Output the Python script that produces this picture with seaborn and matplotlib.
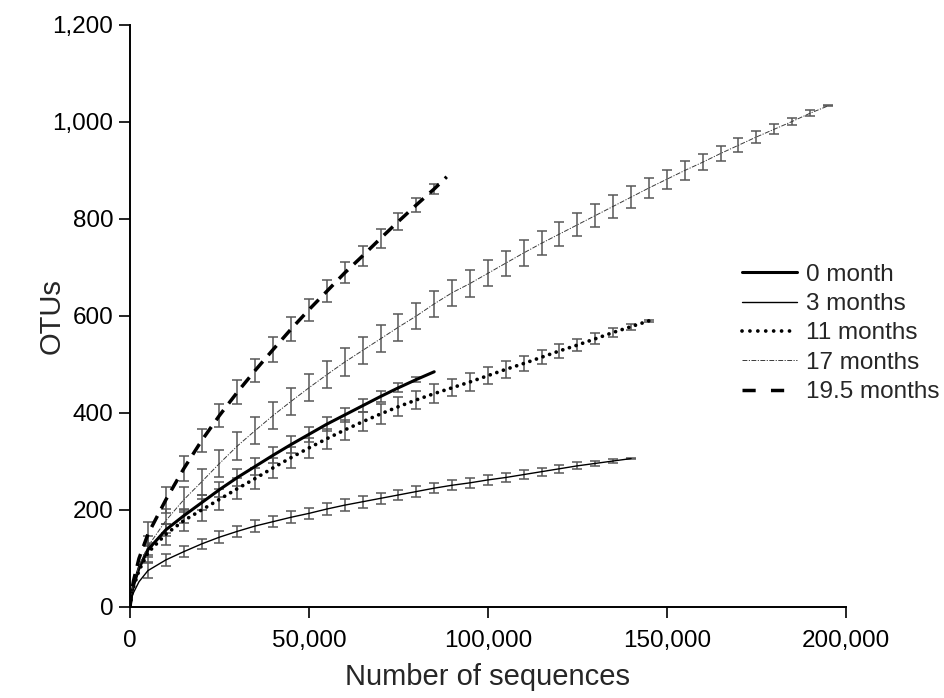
import numpy as np
import pandas as pd
import matplotlib
matplotlib.use("Agg")
import matplotlib.pyplot as plt
from matplotlib.ticker import FuncFormatter
import seaborn as sns

# ---------------- data ----------------
series_names = ["0 month", "3 months", "11 months", "17 months", "19.5 months"]

x_0m = [0, 500, 1000, 2500, 5000, 10000, 15000, 20000, 25000, 30000, 35000, 40000,
        45000, 50000, 55000, 60000, 65000, 70000, 75000, 80000, 85000]
y_0m = [0, 30, 45, 80, 118, 159, 188, 215, 242, 267, 290, 313,
        335, 356, 377, 396, 415, 434, 452, 469, 485]
e_0m = [0, 0, 0, 0, 10, 12, 14, 15, 16, 17, 17, 17,
        17, 16, 15, 14, 13, 11, 9, 6, 0]

x_3m = [0, 500, 1000, 2500, 5000, 10000, 15000, 20000, 25000, 30000, 35000, 40000,
        45000, 50000, 55000, 60000, 65000, 70000, 75000, 80000, 85000, 90000,
        95000, 100000, 105000, 110000, 115000, 120000, 125000, 130000, 135000, 140000]
y_3m = [0, 20, 30, 52, 75, 97, 114, 130, 144, 156, 167, 176,
        185, 193, 202, 210, 217, 224, 231, 238, 245, 251,
        256, 262, 267, 273, 279, 285, 291, 296, 301, 306]
e_3m = [0, 0, 0, 0, 15, 12, 11, 11, 12, 12, 12, 12,
        12, 12, 12, 12, 12, 11, 11, 11, 11, 10,
        10, 10, 9, 9, 8, 8, 7, 6, 4, 1]

x_11m = [0, 500, 1000, 2500, 5000, 10000, 15000, 20000, 25000, 30000, 35000, 40000,
         45000, 50000, 55000, 60000, 65000, 70000, 75000, 80000, 85000, 90000,
         95000, 100000, 105000, 110000, 115000, 120000, 125000, 130000, 135000,
         140000, 145000]
y_11m = [0, 28, 42, 75, 112, 150, 178, 200, 222, 244, 265, 287,
         308, 328, 347, 365, 382, 398, 413, 427, 440, 452,
         464, 477, 490, 502, 515, 528, 540, 553, 566,
         578, 590]
e_11m = [0, 0, 0, 0, 20, 22, 22, 22, 22, 22, 21, 21,
         21, 21, 21, 20, 20, 20, 19, 19, 19, 18,
         18, 18, 17, 16, 15, 14, 13, 11, 9,
         6, 2]

x_17m = [0, 500, 1000, 2500, 5000, 10000, 15000, 20000, 25000, 30000, 35000, 40000,
         45000, 50000, 55000, 60000, 65000, 70000, 75000, 80000, 85000, 90000,
         95000, 100000, 105000, 110000, 115000, 120000, 125000, 130000, 135000,
         140000, 145000, 150000, 155000, 160000, 165000, 170000, 175000, 180000,
         185000, 190000, 195000]
y_17m = [0, 30, 48, 85, 125, 178, 221, 258, 296, 332, 364, 395,
         424, 452, 479, 505, 529, 553, 577, 600, 625, 648,
         667, 688, 709, 730, 750, 769, 788, 807, 826,
         845, 864, 882, 900, 917, 935, 952, 969, 985,
         1001, 1018, 1033]
e_17m = [0, 0, 0, 0, 22, 25, 26, 27, 27, 28, 28, 28,
         28, 28, 28, 28, 28, 28, 28, 27, 27, 27,
         27, 27, 26, 26, 25, 25, 24, 24, 23,
         22, 21, 20, 19, 17, 16, 14, 12, 10,
         8, 6, 1]

x_19m = [0, 500, 1000, 2500, 5000, 10000, 15000, 20000, 25000, 30000, 35000, 40000,
         45000, 50000, 55000, 60000, 65000, 70000, 75000, 80000, 85000, 88500]
y_19m = [0, 35, 55, 100, 150, 221, 285, 343, 395, 443, 488, 531,
         573, 613, 651, 689, 724, 760, 795, 829, 862, 887]
e_19m = [0, 0, 0, 0, 25, 27, 26, 24, 24, 24, 24, 25,
         25, 23, 23, 22, 21, 20, 18, 15, 11, 0]

x_ticks = [0, 50000, 100000, 150000, 200000]
y_ticks = [0, 200, 400, 600, 800, 1000, 1200]

# ---------------- build table ----------------
xs = [x_0m, x_3m, x_11m, x_17m, x_19m]
ys = [y_0m, y_3m, y_11m, y_17m, y_19m]
es = [e_0m, e_3m, e_11m, e_17m, e_19m]
frames = []
for name, xv, yv, ev in zip(series_names, xs, ys, es):
    frames.append(pd.DataFrame({"series": name, "seqs": xv, "otus": yv, "err": ev}))
df = pd.concat(frames, ignore_index=True)

styles = {
    "0 month":     dict(color="black", lw=2.2, ls="-", legls="-"),
    "3 months":    dict(color="black", lw=1.0, ls="-", legls="-"),
    "11 months":   dict(color="black", lw=2.7, ls=(0, (0.01, 1.85)),
                        legls=(0, (0.01, 2.1))),
    "17 months":   dict(color="#3a3a3a", lw=0.7, ls=(0, (5, 1.5, 1.2, 1.5)),
                        legls=(0, (5, 1.5, 1.2, 1.5))),
    "19.5 months": dict(color="black", lw=2.5, ls=(0, (3.6, 2.4)),
                        legls=(0, (3.8, 4.4))),
}

sns.set_style("ticks")
plt.rcParams["font.family"] = ["Liberation Sans", "DejaVu Sans"]

fig = plt.figure(figsize=(9.45, 6.98), dpi=100)
ax = fig.add_axes([0.1376, 0.1304, 0.7574, 0.8338])

# error bars first (behind lines)
for name in series_names:
    d = df[(df.series == name) & (df.seqs >= 5000) & (df.err > 0)]
    ax.errorbar(d.seqs, d.otus, yerr=d.err, fmt="none", ecolor="#575757",
                elinewidth=1.1, capsize=3.4, capthick=1.1, zorder=2)

for name in series_names:
    st = styles[name]
    d = df[df.series == name]
    sns.lineplot(data=d, x="seqs", y="otus", ax=ax, color=st["color"],
                 linewidth=st["lw"], label=name, zorder=3, estimator=None,
                 sort=False)
    line = ax.lines[-1]
    line.set_linestyle(st["ls"])
    line.set_dash_capstyle("round" if name == "11 months" else "butt")

ax.set_xlim(0, 200000)
ax.set_ylim(0, 1200)
ax.set_xticks(x_ticks)
ax.set_yticks(y_ticks)
ax.xaxis.set_major_formatter(FuncFormatter(lambda v, p: f"{int(v):,}"))
ax.yaxis.set_major_formatter(FuncFormatter(lambda v, p: f"{int(v):,}"))
ax.tick_params(axis="both", direction="out", length=8, width=1.2,
               labelsize=17.5, color="black", labelcolor="black")
ax.tick_params(axis="x", pad=8.5)
ax.tick_params(axis="y", pad=4)
for side in ["top", "right"]:
    ax.spines[side].set_visible(False)
for side in ["left", "bottom"]:
    ax.spines[side].set_linewidth(1.4)
    ax.spines[side].set_color("black")

ax.set_xlabel("Number of sequences", fontsize=21)
ax.xaxis.set_label_coords(0.5, -0.097)
ax.set_ylabel("OTUs", fontsize=21)
ax.yaxis.set_label_coords(-0.09, 0.5)

leg = ax.legend(loc="upper left", bbox_to_anchor=(0.785, 0.622),
                bbox_transform=fig.transFigure, frameon=False, fontsize=17.5,
                handlelength=2.25, handletextpad=0.4, labelspacing=0.3,
                borderaxespad=0, borderpad=0)
for h, name in zip(leg.get_lines(), series_names):
    st = styles[name]
    h.set_linestyle(st["legls"])
    h.set_linewidth(st["lw"])
    h.set_color(st["color"])
    h.set_dash_capstyle("round" if name == "11 months" else "butt")

fig.savefig("out.png", dpi=100)
